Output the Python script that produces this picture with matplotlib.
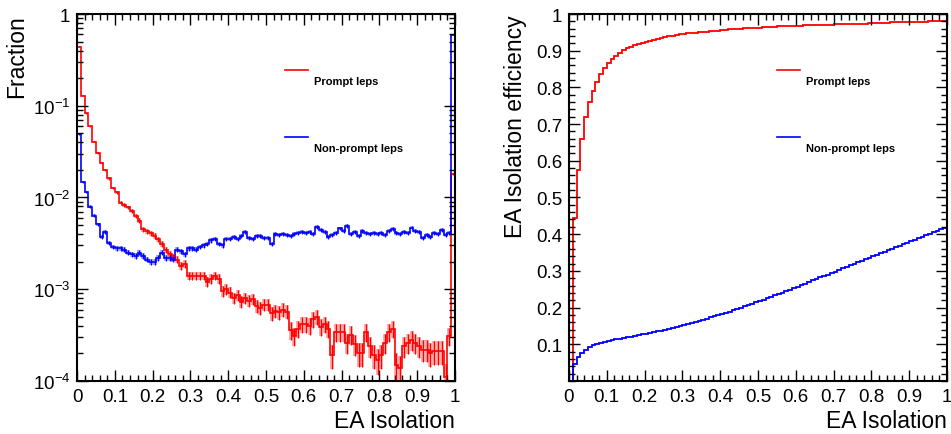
import numpy as np
import matplotlib
matplotlib.use('Agg')
import matplotlib.pyplot as plt
from matplotlib.ticker import MultipleLocator, FixedLocator, FixedFormatter, NullFormatter

plt.rcParams['font.family'] = ['Liberation Sans', 'DejaVu Sans']
plt.rcParams['mathtext.fontset'] = 'custom'
plt.rcParams['mathtext.rm'] = 'Liberation Sans'
plt.rcParams['mathtext.it'] = 'Liberation Sans:italic'

# 100 bins in EA isolation, last bin holds the overflow
bin_edges = np.linspace(0, 1, 101)

prompt_frac = [
    0.44, 0.129, 0.083, 0.0597, 0.0407, 0.0305, 0.0238, 0.0201, 0.0162, 0.0127,
    0.0114, 0.0088, 0.0083, 0.0078, 0.0072, 0.0063, 0.0056, 0.0045, 0.0043, 0.0041,
    0.0038, 0.0035, 0.0031, 0.0027, 0.0024, 0.0022, 0.0021, 0.0018, 0.0019, 0.0014,
    0.0014, 0.0014, 0.0014, 0.0014, 0.0012, 0.0013, 0.0014, 0.0013, 0.00095, 0.0010,
    0.00092, 0.00080, 0.00087, 0.00073, 0.00080, 0.00075, 0.00078, 0.00066, 0.00062, 0.00068,
    0.00068, 0.00055, 0.00058, 0.00056, 0.00060, 0.00057, 0.00036, 0.00031, 0.00037, 0.00042,
    0.00042, 0.00040, 0.00047, 0.00050, 0.00039, 0.00042, 0.00037, 0.00019, 0.00034, 0.00034,
    0.00034, 0.00026, 0.00032, 0.00025, 0.00020, 0.00020, 0.00034, 0.00024, 0.00019, 0.00017,
    0.00019, 0.00026, 0.00034, 0.00037, 0.00015, 0.00014, 0.00024, 0.00026, 0.00028, 0.00026,
    0.00024, 0.00022, 0.00022, 0.00020, 0.00021, 0.00021, 0.00021, 0.00011, 0.00031, 0.018,
]
nonprompt_frac = [
    0.049, 0.0149, 0.0114, 0.0079, 0.0063, 0.0051, 0.0037, 0.0042, 0.0032, 0.0029,
    0.0028, 0.0028, 0.0027, 0.0025, 0.0024, 0.0023, 0.0025, 0.0023, 0.0021, 0.0020,
    0.0020, 0.0022, 0.0025, 0.0022, 0.0022, 0.0021, 0.0027, 0.0026, 0.0024, 0.0028,
    0.0028, 0.0027, 0.0029, 0.0030, 0.0031, 0.0034, 0.0035, 0.0031, 0.0030, 0.0035,
    0.0035, 0.0037, 0.0035, 0.0038, 0.0042, 0.0036, 0.0035, 0.0038, 0.0038, 0.0036,
    0.0036, 0.0031, 0.0040, 0.0039, 0.0040, 0.0039, 0.0038, 0.0040, 0.0041, 0.0042,
    0.0041, 0.0042, 0.0040, 0.0048, 0.0044, 0.0042, 0.0037, 0.0039, 0.0041, 0.0046,
    0.0043, 0.0049, 0.0040, 0.0042, 0.0038, 0.0043, 0.0041, 0.0040, 0.0041, 0.0040,
    0.0041, 0.0039, 0.0043, 0.0045, 0.0041, 0.0040, 0.0042, 0.0041, 0.0047, 0.0043,
    0.0042, 0.0036, 0.0039, 0.0037, 0.0041, 0.0040, 0.0044, 0.0039, 0.0041, 0.59,
]

prompt_eff = [
    0.0, 0.443, 0.575, 0.659, 0.718, 0.759, 0.791, 0.816, 0.836, 0.852,
    0.866, 0.877, 0.886, 0.894, 0.901, 0.906, 0.911, 0.915, 0.918, 0.921,
    0.924, 0.927, 0.930, 0.933, 0.935, 0.937, 0.939, 0.941, 0.943, 0.945,
    0.946, 0.947, 0.948, 0.949, 0.950, 0.951, 0.952, 0.953, 0.954, 0.955,
    0.956, 0.957, 0.958, 0.959, 0.959, 0.960, 0.961, 0.961, 0.962, 0.963,
    0.963, 0.964, 0.964, 0.965, 0.965, 0.966, 0.966, 0.967, 0.967, 0.967,
    0.968, 0.968, 0.969, 0.969, 0.969, 0.970, 0.970, 0.971, 0.971, 0.971,
    0.972, 0.972, 0.972, 0.973, 0.973, 0.973, 0.974, 0.974, 0.974, 0.975,
    0.975, 0.975, 0.976, 0.976, 0.976, 0.977, 0.977, 0.977, 0.977, 0.978,
    0.978, 0.978, 0.979, 0.979, 0.979, 0.980, 0.980, 0.980, 0.980, 0.981,
]
nonprompt_eff = [
    0.0, 0.046, 0.064, 0.076, 0.085, 0.092, 0.097, 0.101, 0.104, 0.107,
    0.109, 0.111, 0.113, 0.115, 0.117, 0.119, 0.121, 0.123, 0.125, 0.127,
    0.129, 0.131, 0.133, 0.135, 0.137, 0.139, 0.141, 0.144, 0.147, 0.149,
    0.152, 0.155, 0.158, 0.161, 0.164, 0.167, 0.170, 0.173, 0.176, 0.179,
    0.182, 0.185, 0.189, 0.192, 0.196, 0.199, 0.203, 0.207, 0.210, 0.214,
    0.218, 0.221, 0.225, 0.229, 0.233, 0.237, 0.241, 0.245, 0.249, 0.253,
    0.257, 0.261, 0.265, 0.269, 0.274, 0.278, 0.282, 0.286, 0.290, 0.294,
    0.298, 0.303, 0.307, 0.311, 0.315, 0.320, 0.324, 0.328, 0.332, 0.336,
    0.340, 0.344, 0.348, 0.352, 0.356, 0.360, 0.364, 0.368, 0.372, 0.377,
    0.381, 0.385, 0.389, 0.393, 0.397, 0.401, 0.405, 0.409, 0.413, 0.418,
]

# rough effective sample sizes (for the stat. error bars)
n_prompt = 60000
n_nonprompt = 100000

series_names = ['Prompt leps', 'Non-prompt leps']
series_colors = ['red', 'blue']

xtick_vals = [0, 0.1, 0.2, 0.3, 0.4, 0.5, 0.6, 0.7, 0.8, 0.9, 1]
xtick_labels = ['0', '0.1', '0.2', '0.3', '0.4', '0.5', '0.6', '0.7', '0.8', '0.9', '1']
log_tick_vals = [1e-4, 1e-3, 1e-2, 1e-1, 1]
log_tick_labels = [r'$\mathdefault{10^{-4}}$', r'$\mathdefault{10^{-3}}$',
                   r'$\mathdefault{10^{-2}}$', r'$\mathdefault{10^{-1}}$', '1']
eff_tick_vals = [0.1, 0.2, 0.3, 0.4, 0.5, 0.6, 0.7, 0.8, 0.9, 1]
eff_tick_labels = ['0.1', '0.2', '0.3', '0.4', '0.5', '0.6', '0.7', '0.8', '0.9', '1']

fig = plt.figure(figsize=(9.51, 4.35), dpi=100)
ax1 = fig.add_axes([0.081, 0.122, 0.3975, 0.8435])
ax2 = fig.add_axes([0.5983, 0.122, 0.3975, 0.8435])

centers = 0.5 * (bin_edges[:-1] + bin_edges[1:])

# ---- left: fractions (log)
for vals, n, col in [(prompt_frac, n_prompt, 'red'), (nonprompt_frac, n_nonprompt, 'blue')]:
    v = np.array(vals)
    err = np.sqrt(v / n)
    lo = np.clip(v - err, 1e-6, None)
    hi = v + err
    ax1.vlines(centers, lo, hi, color=col, lw=2.6, alpha=0.4)
    ax1.vlines(centers, lo, hi, color=col, lw=0.8)
    ax1.stairs(v, bin_edges, baseline=1e-6, color=col, lw=1.2)

ax1.set_yscale('log')
ax1.set_ylim(1e-4, 1)
ax1.yaxis.set_major_locator(FixedLocator(log_tick_vals))
ax1.yaxis.set_major_formatter(FixedFormatter(log_tick_labels))
minor = [m * 10.0 ** e for e in range(-4, 0) for m in range(2, 10)]
ax1.yaxis.set_minor_locator(FixedLocator(minor))
ax1.yaxis.set_minor_formatter(NullFormatter())
ax1.set_ylabel('Fraction', loc='top', fontsize=16.5, labelpad=3)

# ---- right: efficiencies
ax2.stairs(prompt_eff, bin_edges, baseline=0, color='red', lw=1.3)
ax2.stairs(nonprompt_eff, bin_edges, baseline=0, color='blue', lw=1.3)
ax2.set_ylim(0, 1)
ax2.yaxis.set_major_locator(FixedLocator(eff_tick_vals))
ax2.yaxis.set_major_formatter(FixedFormatter(eff_tick_labels))
ax2.yaxis.set_minor_locator(MultipleLocator(0.02))
ax2.set_ylabel('EA Isolation efficiency', loc='top', fontsize=16.5, labelpad=6)

for ax in (ax1, ax2):
    ax.set_xlim(0, 1)
    ax.xaxis.set_major_locator(FixedLocator(xtick_vals))
    ax.xaxis.set_major_formatter(FixedFormatter(xtick_labels))
    ax.xaxis.set_minor_locator(MultipleLocator(0.02))
    ax.tick_params(which='both', direction='in', top=True, right=True, labelsize=13.5, pad=5)
    ax.tick_params(which='major', length=8, width=1)
    ax.tick_params(which='minor', length=4, width=1)
    for sp in ax.spines.values():
        sp.set_linewidth(1.5)
    ax.set_xlabel('EA Isolation', loc='right', fontsize=16.5, labelpad=3)

    # ROOT style legend: short line, label below to the right
    for i, (name, col) in enumerate(zip(series_names, series_colors)):
        ly = 0.847 - i * 0.181
        ax.plot([0.55, 0.612], [ly, ly], color=col, lw=1.2, transform=ax.transAxes)
        ax.text(0.627, ly - 0.03, name, transform=ax.transAxes, fontsize=8,
                fontweight='bold', va='center', ha='left')

fig.savefig('out.png', dpi=100)
